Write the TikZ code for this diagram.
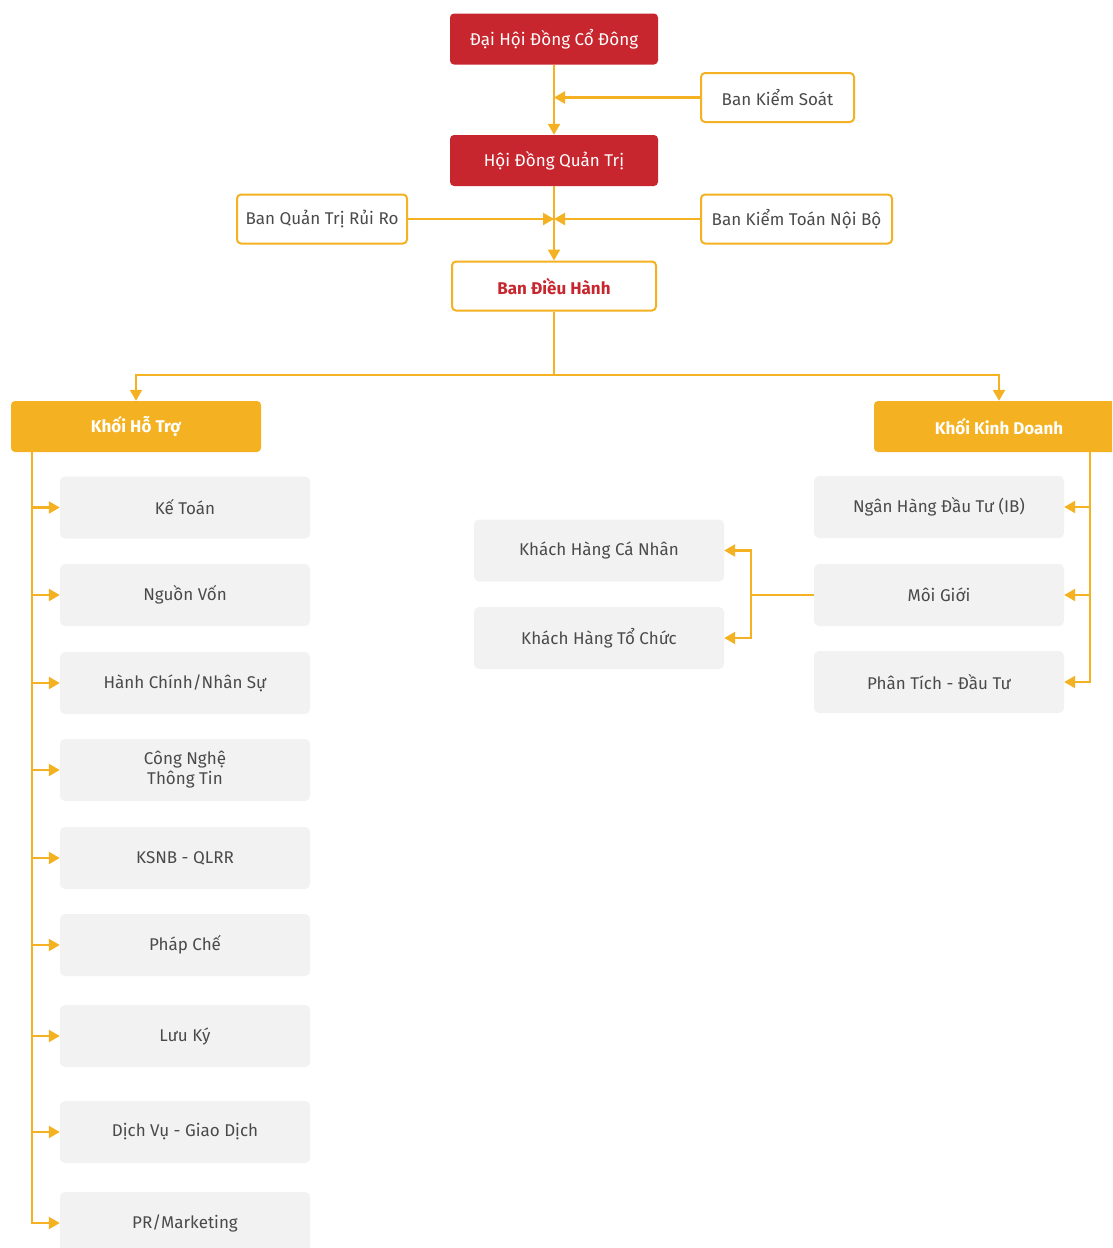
\documentclass[tikz,border=0pt]{standalone}
\usepackage{fontspec}
\setmainfont{Fira Sans}
\usetikzlibrary{arrows.meta}
\definecolor{org}{HTML}{F4B223}
\definecolor{rd}{HTML}{C8262E}
\definecolor{gb}{HTML}{F2F2F2}
\definecolor{tx}{HTML}{4A4A4A}
\begin{document}
\begin{tikzpicture}[x=1pt,y=-1pt,
  every node/.style={font=\fontsize{17}{20}\selectfont, align=center, inner sep=0pt},
  redbox/.style={fill=rd, rounded corners=4pt, text=white, minimum width=208pt, minimum height=51pt},
  outbox/.style={draw=org, line width=2pt, fill=white, rounded corners=4pt, text=tx, minimum height=49pt},
  khoi/.style={fill=org, rounded corners=4pt, text=white, minimum width=250pt, minimum height=51pt, font=\fontsize{17}{20}\selectfont\bfseries},
  gbox/.style={fill=gb, rounded corners=5pt, text=tx, minimum width=250pt, minimum height=62pt},
  ln/.style={draw=org, line width=2.3pt},
  arr/.style={draw=org, line width=2.3pt, -{Triangle[length=11pt,width=12pt]}}
]
\useasboundingbox (0,0) rectangle (1112,1248);
\clip (0,0) rectangle (1112,1248);
\fill[white] (0,0) rectangle (1112,1248);

% top
\node[redbox] (dh) at (554,39) {Đại Hội Đồng Cổ Đông};
\node[outbox, minimum width=153pt] (bks) at (777.5,97.5) {Ban Kiểm Soát};
\node[redbox] (hd) at (554,160.5) {Hội Đồng Quản Trị};
\node[outbox, minimum width=170pt] (bqt) at (322,219) {Ban Quản Trị Rủi Ro};
\node[outbox, minimum width=191pt] (bkt) at (796.5,219) {Ban Kiểm Toán Nội Bộ};
\node[outbox, minimum width=204pt, text=rd, font=\fontsize{17}{20}\selectfont\bfseries] (bdh) at (554,286) {Ban Điều Hành};

\node[khoi] (k1) at (136,426.5) {Khối Hỗ Trợ};
\node[khoi] (k2) at (999,426.5) {Khối Kinh Doanh};

% left column
\node[gbox] (l1) at (185,507.5) {Kế Toán};
\node[gbox] (l2) at (185,595) {Nguồn Vốn};
\node[gbox] (l3) at (185,683) {Hành Chính/Nhân Sự};
\node[gbox] (l4) at (185,770) {Công Nghệ\\Thông Tin};
\node[gbox] (l5) at (185,858) {KSNB - QLRR};
\node[gbox] (l6) at (185,945) {Pháp Chế};
\node[gbox] (l7) at (185,1036) {Lưu Ký};
\node[gbox] (l8) at (185,1132) {Dịch Vụ - Giao Dịch};
\node[gbox] (l9) at (185,1223) {PR/Marketing};

% right column
\node[gbox] (r1) at (939,507) {Ngân Hàng Đầu Tư (IB)};
\node[gbox] (r2) at (939,595) {Môi Giới};
\node[gbox] (r3) at (939,682) {Phân Tích - Đầu Tư};

% middle
\node[gbox] (m1) at (599,550.5) {Khách Hàng Cá Nhân};
\node[gbox] (m2) at (599,638) {Khách Hàng Tổ Chức};

% connectors top
\draw[arr] (dh.south) -- (hd.north);
\draw[arr] (bks.west) -- (bks.west -| dh.south);
\draw[arr] (hd.south) -- (bdh.north);
\draw[arr] (bqt.east) -- (bqt.east -| hd.south);
\draw[arr] (bkt.west) -- (bkt.west -| hd.south);

\coordinate (j) at (554,375);
\draw[ln] (bdh.south) -- (j);
\draw[arr] (j) -| (k1.north);
\draw[arr] (j) -| (k2.north);

% left branches
\coordinate (lv) at (32,452);
\foreach \n in {l1,l2,l3,l4,l5,l6,l7,l8,l9}{
  \draw[arr] (lv) |- (\n.west);
}
% right branches
\coordinate (rv) at (1090,452);
\foreach \n in {r1,r2,r3}{
  \draw[arr] (rv) |- (\n.east);
}
% middle
\coordinate (mv) at (751,595);
\draw[ln] (r2.west) -- (mv);
\draw[arr] (mv) |- (m1.east);
\draw[arr] (mv) |- (m2.east);
\end{tikzpicture}
\end{document}
